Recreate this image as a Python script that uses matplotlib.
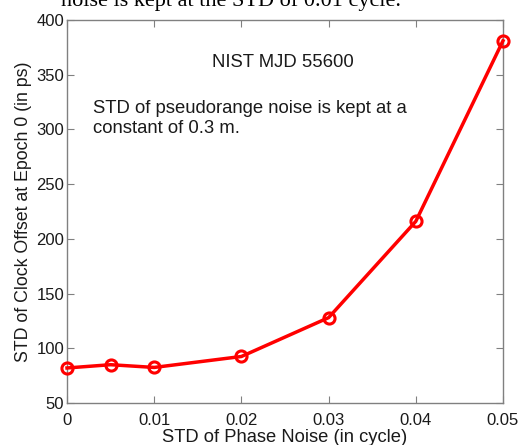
import matplotlib
matplotlib.use("Agg")
import matplotlib.pyplot as plt

phase_noise = [0.0, 0.005, 0.01, 0.02, 0.03, 0.04, 0.05]
clock_std = [82, 85, 82.5, 92.5, 128, 216, 381]
xticks = [0, 0.01, 0.02, 0.03, 0.04, 0.05]
xtick_labels = ["0", "0.01", "0.02", "0.03", "0.04", "0.05"]
yticks = [50, 100, 150, 200, 250, 300, 350, 400]

plt.rcParams["font.family"] = ["Liberation Sans", "DejaVu Sans"]

fig = plt.figure(figsize=(5.27, 4.45), dpi=100)
ax = fig.add_axes([67 / 527, 1 - 403 / 445, (503 - 67) / 527, (403 - 20) / 445])

ax.plot(phase_noise, clock_std, color="#ff0000", lw=2.5, marker="o", ms=8,
        mfc="none", mec="#ff0000", mew=2.2, clip_on=False, zorder=3)

ax.set_xlim(0, 0.05)
ax.set_ylim(50, 400)
ax.set_xticks(xticks)
ax.set_xticklabels(xtick_labels)
ax.set_yticks(yticks)
ax.tick_params(direction="in", top=True, right=True, labelsize=12,
               length=5, width=0.8, color="#808080", labelcolor="#1a1a1a")
ax.tick_params(axis="x", pad=7)
ax.tick_params(axis="y", pad=2)
for s in ax.spines.values():
    s.set_color("#808080")
    s.set_linewidth(1.0)

ax.set_xlabel("STD of Phase Noise (in cycle)", fontsize=13.2, color="#1a1a1a", labelpad=1)
ax.set_ylabel("STD of Clock Offset at Epoch 0 (in ps)", fontsize=12.8, color="#1a1a1a", labelpad=3)

ax.text(0.0248, 361, "NIST MJD 55600", fontsize=13.3, ha="center", va="center", color="#1a1a1a")
ax.text(0.003, 310, "STD of pseudorange noise is kept at a\nconstant of 0.3 m.",
        fontsize=13.3, ha="left", va="center", color="#1a1a1a", linespacing=1.2)

fig.text(0.438, 1 - 6 / 445, "noise is kept at the STD of 0.01 cycle.",
         fontsize=16, ha="center", va="baseline", family="Liberation Serif", color="black")

fig.savefig("out.png", dpi=100)
